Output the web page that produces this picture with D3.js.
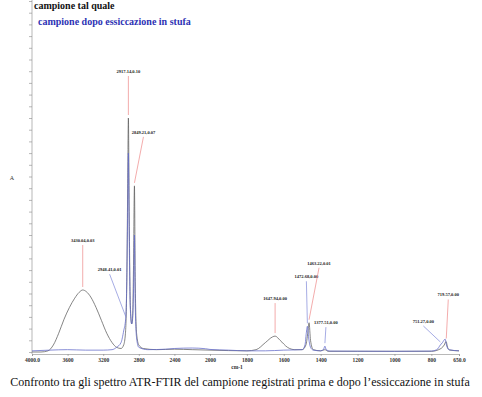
<!DOCTYPE html>
<html>
<head>
<meta charset="utf-8">
<script src="https://cdn.jsdelivr.net/npm/d3@7.9.0/dist/d3.min.js"></script>
<style>
  body { margin: 0; background: #fff; }
  svg { display: block; }
  text { font-family: "Liberation Serif", "Times New Roman", serif; }
</style>
</head>
<body>
<svg id="chart" width="482" height="397"></svg>
<script>
// x ticks (cm-1), the scale is doubled below 2000
const xTicks = [4000, 3600, 3200, 2800, 2400, 2000, 1800, 1600, 1400, 1200, 1000, 800, 650];

// campione tal quale: [wavenumber, absorbance]
const talQuale = [
  [4000, 0.0], [3900, 0.0], [3820, 0.0005], [3760, 0.003], [3700, 0.008],
  [3640, 0.014], [3580, 0.019], [3520, 0.023], [3470, 0.0255], [3430, 0.0265],
  [3390, 0.0258], [3340, 0.0235], [3280, 0.019], [3220, 0.0135], [3160, 0.008],
  [3100, 0.004], [3050, 0.002], [3000, 0.0015], [2970, 0.003], [2950, 0.008],
  [2935, 0.03], [2925, 0.07], [2917, 0.1], [2908, 0.06], [2895, 0.02],
  [2880, 0.012], [2870, 0.014], [2860, 0.035], [2849, 0.071], [2840, 0.03],
  [2825, 0.008], [2800, 0.003], [2750, 0.0015], [2600, 0.001], [2400, 0.0012],
  [2200, 0.001], [2000, 0.0008], [1800, 0.0005], [1750, 0.001], [1700, 0.004],
  [1660, 0.0065], [1647, 0.0068], [1620, 0.005], [1580, 0.002], [1540, 0.001],
  [1500, 0.001], [1480, 0.003], [1470, 0.008], [1463, 0.0125], [1455, 0.005],
  [1440, 0.001], [1400, 0.0005], [1377, 0.001], [1360, 0.0003], [1200, 0.0003],
  [1000, 0.0003], [800, 0.0003], [760, 0.001], [730, 0.003], [720, 0.0045],
  [712, 0.002], [700, 0.0008], [650, 0.0005]
];

// campione dopo essiccazione in stufa
const dopoStufa = [
  [4000, 0.0005], [3800, 0.0008], [3600, 0.001], [3400, 0.0008], [3200, 0.0008],
  [3100, 0.001], [3050, 0.002], [3000, 0.004], [2970, 0.009], [2948, 0.014],
  [2935, 0.03], [2925, 0.06], [2917, 0.085], [2908, 0.05], [2895, 0.018],
  [2880, 0.012], [2865, 0.018], [2855, 0.035], [2849, 0.05], [2840, 0.02],
  [2825, 0.006], [2800, 0.002], [2700, 0.001], [2500, 0.0012], [2400, 0.0015],
  [2200, 0.0017], [2050, 0.0014], [2000, 0.0011], [1900, 0.0008], [1800, 0.0005],
  [1700, 0.0005], [1600, 0.0008], [1500, 0.001], [1485, 0.003], [1478, 0.008],
  [1472, 0.011], [1465, 0.006], [1455, 0.002], [1440, 0.0008], [1400, 0.0005],
  [1385, 0.001], [1377, 0.0025], [1370, 0.001], [1350, 0.0004], [1000, 0.0003],
  [800, 0.0004], [770, 0.001], [751, 0.003], [740, 0.004], [725, 0.0055],
  [718, 0.003], [705, 0.001], [650, 0.0005]
];

// peak labels: wavenumber, absorbance at peak, text, which series
const peakWn = [3430, 2948, 2917, 2849, 1647, 1472, 1463, 1377, 751, 719];
const peakA = [0.0265, 0.014, 0.1, 0.071, 0.0068, 0.011, 0.0125, 0.0025, 0.003, 0.0045];
const peakText = ['3430.04,0.03', '2948.41,0.01', '2917.14,0.10', '2849.21,0.07', '1647.94,0.00',
  '1472.68,0.00', '1463.22,0.01', '1377.51,0.00', '751.27,0.00', '719.57,0.00'];
const peakSeries = ['tal', 'dopo', 'tal', 'tal', 'tal', 'dopo', 'tal', 'dopo', 'dopo', 'tal'];

// label offsets from the peak (layout only)
const labelDx = [0, -16, 0, 9, 0, -1, 10, 1, -17, 2];
const labelDy = [-48, -48, -45, -52, -36, -48, -58, -22, -22, -45];

const svg = d3.select('#chart');
const x = d3.scaleLinear().domain([4000, 2000, 650]).range([32, 210, 459]);
const y = d3.scaleLinear().domain([0, 0.15]).range([352, 1]);

const colors = { tal: '#5c5c5c', dopo: '#6068c8' };
const leaderColors = { tal: '#e88', dopo: '#8088d8' };

// y axis with minor ticks only
svg.append('g')
    .attr('transform', 'translate(32,0)')
    .call(d3.axisLeft(y).tickValues(d3.range(0, 0.151, 0.005)).tickSize(3).tickFormat(''))
    .call((g) => g.select('.domain').attr('d', 'M0,0V354'))
    .call((g) => g.selectAll('line, path').attr('stroke', '#888').attr('stroke-width', 0.6));

// x axis
svg.append('g')
    .attr('transform', 'translate(0,354)')
    .call(d3.axisBottom(x).tickValues(xTicks).tickSize(2)
        .tickFormat((d) => (d === 4000 || d === 650 ? d.toFixed(1) : d)))
    .call((g) => g.selectAll('line, path').attr('stroke', '#888').attr('stroke-width', 0.6))
    .call((g) => g.selectAll('text')
        .attr('y', 4)
        .attr('font-size', 5.5)
        .attr('font-weight', 'bold')
        .attr('font-family', 'Liberation Serif, serif')
        .attr('fill', '#333'));

svg.append('text').attr('x', 237).attr('y', 369).attr('text-anchor', 'middle')
    .attr('font-size', 5.5).attr('font-weight', 'bold').attr('fill', '#333').text('cm-1');
svg.append('text').attr('x', 12).attr('y', 180).attr('text-anchor', 'middle')
    .attr('font-size', 6).attr('fill', '#333').text('A');

const line = d3.line()
    .x((d) => x(d[0]))
    .y((d) => y(d[1]))
    .curve(d3.curveMonotoneX);

svg.append('path').datum(talQuale).attr('d', line)
    .attr('fill', 'none').attr('stroke', colors.tal).attr('stroke-width', 0.75);
svg.append('path').datum(dopoStufa).attr('d', line)
    .attr('fill', 'none').attr('stroke', colors.dopo).attr('stroke-width', 0.75);

// peak leaders and labels
peakWn.forEach((wn, i) => {
    const px = x(wn);
    const py = y(peakA[i]);
    const lx = px + labelDx[i];
    const ly = py + labelDy[i];
    svg.append('line')
        .attr('x1', lx).attr('y1', ly + 3)
        .attr('x2', px).attr('y2', py - 3)
        .attr('stroke', leaderColors[peakSeries[i]]).attr('stroke-width', 0.7);
    svg.append('text')
        .attr('x', lx).attr('y', ly)
        .attr('text-anchor', 'middle')
        .attr('font-size', 4.5).attr('font-weight', 'bold').attr('fill', '#222')
        .text(peakText[i]);
});

// legend
svg.append('text').attr('x', 34).attr('y', 9)
    .attr('font-size', 10).attr('font-weight', 'bold').attr('fill', '#111')
    .text('campione tal quale');
svg.append('text').attr('x', 38).attr('y', 25)
    .attr('font-size', 10).attr('font-weight', 'bold').attr('fill', '#2d32b4')
    .text('campione dopo essiccazione in stufa');

// caption
svg.append('text').attr('x', 240).attr('y', 386).attr('text-anchor', 'middle')
    .attr('font-size', 12).attr('fill', '#111')
    .text('Confronto tra gli spettro ATR-FTIR del campione registrati prima e dopo l’essiccazione in stufa');
</script>
</body>
</html>
